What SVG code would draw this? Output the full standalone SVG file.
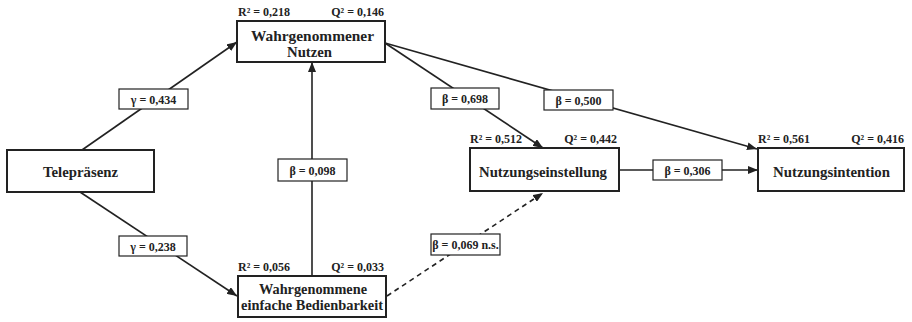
<svg xmlns="http://www.w3.org/2000/svg" width="912" height="322" viewBox="0 0 912 322" font-family="'Liberation Serif', 'Times New Roman', Times, 'DejaVu Serif', serif">
<style>
.node rect{fill:#fff;stroke:#222;stroke-width:2}
.nt{font-family:'Liberation Serif','Times New Roman',Times,'DejaVu Serif',serif;font-weight:bold;font-size:15.5px;fill:#222;text-anchor:middle}
.st{font-family:'Liberation Serif','Times New Roman',Times,'DejaVu Serif',serif;font-weight:bold;font-size:12px;fill:#222}
.lb rect{fill:#fff;stroke:#222;stroke-width:1.2}
.lt{font-family:'Liberation Serif','Times New Roman',Times,'DejaVu Serif',serif;font-weight:bold;font-size:12px;fill:#222;text-anchor:middle}
.c{stroke:#222;stroke-width:1.6;fill:none}
.d{stroke-dasharray:5,4}
</style>
<defs>
<marker id="ah" viewBox="0 0 10 8" refX="10" refY="4" markerWidth="10" markerHeight="8" markerUnits="userSpaceOnUse" orient="auto">
<path d="M0,0 L10,4 L0,8 z" fill="#222"/>
</marker>
</defs>
<g id="connectors">
<line class="c" x1="82" y1="150" x2="237" y2="42" marker-end="url(#ah)"/>
<line class="c" x1="80" y1="192" x2="237" y2="296" marker-end="url(#ah)"/>
<line class="c" x1="312" y1="276" x2="312" y2="62" marker-end="url(#ah)"/>
<line class="c" x1="385" y1="43" x2="543" y2="148" marker-end="url(#ah)"/>
<line class="c" x1="385" y1="43" x2="757" y2="149" marker-end="url(#ah)"/>
<line class="c" x1="619" y1="170" x2="758" y2="170" marker-end="url(#ah)"/>
<line class="c d" x1="387" y1="296" x2="543" y2="193" marker-end="url(#ah)"/>
<g class="lb">
<rect x="119" y="89" width="69" height="20"/><text class="lt" x="153.5" y="103.5">γ = 0,434</text>
<rect x="119" y="236" width="68" height="20"/><text class="lt" x="153" y="250.5">γ = 0,238</text>
<rect x="278" y="159" width="69" height="22"/><text class="lt" x="312.5" y="174.5">β = 0,098</text>
<rect x="431" y="88" width="68" height="21"/><text class="lt" x="465" y="103">β = 0,698</text>
<rect x="544" y="90" width="69" height="20"/><text class="lt" x="578.5" y="104.5">β = 0,500</text>
<rect x="653" y="160" width="69" height="20"/><text class="lt" x="687.5" y="174.5">β = 0,306</text>
<rect x="431" y="234" width="69" height="21"/><text class="lt" x="465.5" y="249">β = 0,069 n.s.</text>
</g>
</g>
<g id="telepraesenz" class="node">
<rect x="7" y="150" width="147" height="42"/>
<text class="nt" x="80.5" y="177" textLength="75" lengthAdjust="spacingAndGlyphs">Telepräsenz</text>
</g>
<g id="nutzen" class="node">
<rect x="237" y="21" width="148" height="41"/>
<text class="nt" x="312.5" y="41" textLength="123" lengthAdjust="spacingAndGlyphs">Wahrgenommener</text>
<text class="nt" x="309.5" y="57" textLength="45" lengthAdjust="spacingAndGlyphs">Nutzen</text>
<text class="st" x="238" y="16">R² = 0,218</text>
<text class="st" x="384" y="16" text-anchor="end">Q² = 0,146</text>
</g>
<g id="bedienbarkeit" class="node">
<rect x="238" y="276" width="148" height="41"/>
<text class="nt" x="313" y="294" textLength="108" lengthAdjust="spacingAndGlyphs">Wahrgenommene</text>
<text class="nt" x="312" y="310" textLength="142" lengthAdjust="spacingAndGlyphs">einfache Bedienbarkeit</text>
<text class="st" x="238" y="271">R² = 0,056</text>
<text class="st" x="384" y="271" text-anchor="end">Q² = 0,033</text>
</g>
<g id="einstellung" class="node">
<rect x="470" y="148" width="149" height="43"/>
<text class="nt" x="543" y="177" textLength="128" lengthAdjust="spacingAndGlyphs">Nutzungseinstellung</text>
<text class="st" x="470" y="143">R² = 0,512</text>
<text class="st" x="617" y="143" text-anchor="end">Q² = 0,442</text>
</g>
<g id="intention" class="node">
<rect x="758" y="148" width="146" height="43"/>
<text class="nt" x="831.5" y="177" textLength="117" lengthAdjust="spacingAndGlyphs">Nutzungsintention</text>
<text class="st" x="758" y="143">R² = 0,561</text>
<text class="st" x="904" y="143" text-anchor="end">Q² = 0,416</text>
</g>
</svg>
